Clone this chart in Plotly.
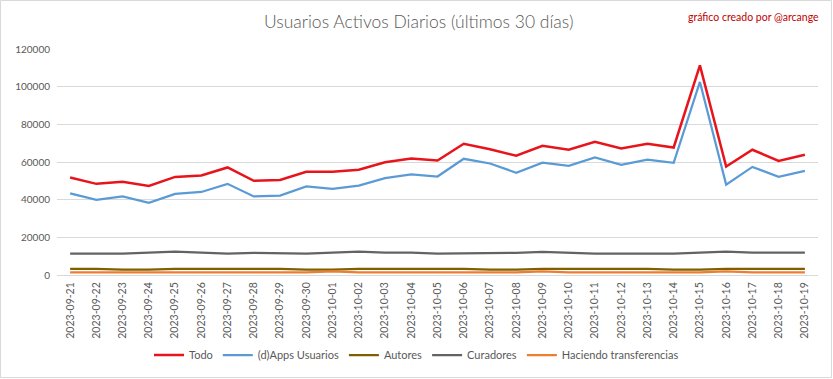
import plotly.graph_objects as go

dates = ["2023-09-21","2023-09-22","2023-09-23","2023-09-24","2023-09-25","2023-09-26","2023-09-27",
         "2023-09-28","2023-09-29","2023-09-30","2023-10-01","2023-10-02","2023-10-03","2023-10-04",
         "2023-10-05","2023-10-06","2023-10-07","2023-10-08","2023-10-09","2023-10-10","2023-10-11",
         "2023-10-12","2023-10-13","2023-10-14","2023-10-15","2023-10-16","2023-10-17","2023-10-18",
         "2023-10-19"]

todo = [51800, 48400, 49500, 47300, 52100, 52800, 57100, 50000, 50500, 54800, 54800, 55900, 59900, 61900,
        60800, 69700, 66800, 63300, 68600, 66500, 70700, 67200, 69700, 67700, 111300, 57600, 66500, 60600, 63800]
dapps = [43300, 39900, 41700, 38300, 43100, 44100, 48400, 41700, 42200, 47000, 45700, 47500, 51400, 53400,
         52300, 61700, 59200, 54300, 59600, 58000, 62400, 58500, 61200, 59600, 102500, 48000, 57400, 52100, 55300]
curadores = [11400, 11400, 11400, 11900, 12400, 11900, 11400, 11800, 11400, 11400, 11900, 12400, 11900, 11900,
             11400, 11400, 11400, 11800, 12300, 11800, 11400, 11400, 11400, 11400, 11900, 12400, 11900, 11900, 11900]
autores = [3300, 3300, 2800, 2800, 3300, 3300, 3300, 3300, 3300, 2800, 2800, 3300, 3300, 3300,
           3300, 3300, 2800, 2800, 3300, 3300, 3300, 3300, 3300, 2800, 2800, 3300, 3300, 3300, 3300]
transfer = [1400, 1400, 1400, 1400, 1400, 1400, 1400, 1400, 1400, 1400, 1900, 1400, 1400, 1400,
            1400, 1400, 1400, 1400, 1900, 1400, 1400, 1400, 1400, 1400, 1400, 1900, 1400, 1400, 1400]

series = [
    ("Todo", todo, "#E8141B", 2.5),
    ("(d)Apps Usuarios", dapps, "#5B9BD5", 2.25),
    ("Autores", autores, "#7F6000", 2.25),
    ("Curadores", curadores, "#636363", 2.25),
    ("Haciendo transferencias", transfer, "#ED7D31", 2.25),
]

fig = go.Figure()
for name, vals, color, w in series:
    fig.add_trace(go.Scatter(x=dates, y=vals, mode="lines", name=name,
                             line=dict(color=color, width=w)))

L, R, T, B = 57, 818, 49, 275
PW, PH = R - L, B - T

fig.update_layout(
    width=833, height=379,
    margin=dict(l=L, r=833 - R, t=T, b=379 - B, autoexpand=False),
    paper_bgcolor="white", plot_bgcolor="white",
    font=dict(family="Lato, Open Sans, sans-serif", color="#595959", size=10),
    showlegend=True,
    legend=dict(orientation="h", xref="container", yref="container",
                x=0.5, xanchor="center", y=(379 - 355) / 379, yanchor="middle",
                font=dict(size=11, color="#595959"), itemwidth=30, tracegroupgap=0),
    annotations=[
        dict(text="Usuarios Activos Diarios (últimos 30 días)", xref="paper", yref="paper",
             x=(418 - L) / PW, y=(B - 22) / PH, xanchor="center", yanchor="middle",
             showarrow=False, font=dict(size=17.5, color="#595959", family="Lato, sans-serif", weight=300)),
        dict(text="gráfico creado por @arcange", xref="paper", yref="paper",
             x=(821 - L) / PW, y=(B - 17) / PH, xanchor="right", yanchor="middle",
             showarrow=False, font=dict(size=10.5, color="#C00000", family="Lato, sans-serif")),
    ],
    shapes=[dict(type="rect", xref="paper", yref="paper",
                 x0=(0.5 - L) / PW, x1=(831.5 - L) / PW, y0=(B - 377.5) / PH, y1=(B - 0.5) / PH,
                 line=dict(color="#D9D9D9", width=1), fillcolor="rgba(0,0,0,0)", layer="below")],
)

fig.update_xaxes(type="category", tickangle=-90, showgrid=False, showline=True, linecolor="#D9D9D9",
                 linewidth=1, ticks="", tickfont=dict(size=10.5, color="#595959"), range=[-0.5, 28.5],
                 zeroline=False, automargin=False, ticklabelstandoff=2)
fig.update_yaxes(range=[0, 120000], dtick=20000, tickformat="d", showgrid=True, gridcolor="#D9D9D9",
                 gridwidth=1, zeroline=False, showline=False, ticks="", ticklabelstandoff=6,
                 tickfont=dict(size=10, color="#595959"), automargin=False)

fig.write_html("out.html", config={"displayModeBar": False},
               post_script="document.body.style.margin='0';document.body.style.overflow='hidden';")
